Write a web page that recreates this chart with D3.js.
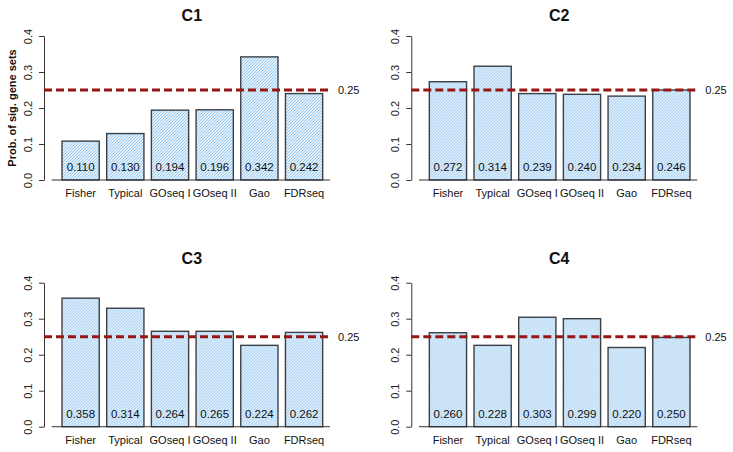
<html>
<head>
<meta charset="utf-8">
<script src="https://d3js.org/d3.v7.min.js"></script>
<style>
body { margin: 0; background: #fff; }
svg { display: block; }
text { font-family: "Liberation Sans", Arial, Helvetica, sans-serif; fill: #111; }
.title { font-size: 16px; font-weight: bold; }
.ylab { font-size: 11px; font-weight: bold; }
.tick text { font-size: 11px; }
.xlab { font-size: 11px; }
.vlab { font-size: 11.5px; }
.ref-lab { font-size: 11px; }
</style>
</head>
<body>
<svg width="733" height="452"></svg>
<script>

// data
var methods = ["Fisher", "Typical", "GOseq I", "GOseq II", "Gao", "FDRseq"];
var panels = ["C1", "C2", "C3", "C4"];
var yTicks = [0, 0.1, 0.2, 0.3, 0.4];
var refValue = 0.25;

// bar heights
var c1Bars = [0.108, 0.129, 0.194, 0.195, 0.342, 0.240];
var c2Bars = [0.273, 0.316, 0.240, 0.238, 0.233, 0.250];
var c3Bars = [0.357, 0.329, 0.265, 0.265, 0.226, 0.262];
var c4Bars = [0.261, 0.226, 0.304, 0.300, 0.220, 0.248];

// printed labels in the bars
var c1Labels = ["0.110", "0.130", "0.194", "0.196", "0.342", "0.242"];
var c2Labels = ["0.272", "0.314", "0.239", "0.240", "0.234", "0.246"];
var c3Labels = ["0.358", "0.314", "0.264", "0.265", "0.224", "0.262"];
var c4Labels = ["0.260", "0.228", "0.303", "0.299", "0.220", "0.250"];

var bars = [c1Bars, c2Bars, c3Bars, c4Bars];
var labels = [c1Labels, c2Labels, c3Labels, c4Labels];

var svg = d3.select("svg");

// hatch pattern
var s = 3;
var pat = svg.append("defs").append("pattern")
    .attr("id", "hatch")
    .attr("patternUnits", "userSpaceOnUse")
    .attr("width", s).attr("height", s);
pat.append("rect").attr("width", s).attr("height", s).attr("fill", "#e2f0fc");
pat.append("path")
    .attr("d", "M-1,1 l2,-2 M0," + s + " l" + s + ",-" + s + " M" + (s - 1) + "," + (s + 1) + " l2,-2")
    .attr("stroke", "#92c6ee")
    .attr("stroke-width", 0.9);

// panel geometry (left column / right column, top row / bottom row)
var colX = [0, 367.3];
var rowY = [0, 246.7];
var titleY = [20.5, 264];

panels.forEach(function(name, i) {
    var col = i % 2, row = Math.floor(i / 2);
    var g = svg.append("g")
        .attr("transform", "translate(" + colX[col] + "," + rowY[row] + ")");

    var left = 51.7, right = 330, top = 36, bottom = 180;

    var x = d3.scaleBand()
        .domain(methods)
        .range([58.3, 326.4])
        .paddingInner(1 / 6)
        .paddingOuter(1 / 12);

    var y = d3.scaleLinear()
        .domain([0, 0.4])
        .range([bottom, top]);

    // title
    g.append("text")
        .attr("class", "title")
        .attr("x", (left + right) / 2 + 1)
        .attr("y", titleY[row] - rowY[row])
        .attr("text-anchor", "middle")
        .text(name);

    // bars
    g.selectAll(".bar")
        .data(bars[i])
        .enter().append("rect")
        .attr("class", "bar")
        .attr("x", (d, j) => x(methods[j]))
        .attr("width", x.bandwidth())
        .attr("y", d => y(d))
        .attr("height", d => y(0) - y(d))
        .attr("fill", "url(#hatch)")
        .attr("stroke", "#3b4048")
        .attr("stroke-width", 1.4);

    // value labels
    g.selectAll(".vlab")
        .data(labels[i])
        .enter().append("text")
        .attr("class", "vlab")
        .attr("x", (d, j) => x(methods[j]) + x.bandwidth() / 2)
        .attr("y", y(0) - 9)
        .attr("text-anchor", "middle")
        .text(d => d);

    // x baseline
    g.append("line")
        .attr("x1", left).attr("x2", right)
        .attr("y1", y(0)).attr("y2", y(0))
        .attr("stroke", "#333").attr("stroke-width", 1);

    // x labels
    g.selectAll(".xlab")
        .data(methods)
        .enter().append("text")
        .attr("class", "xlab")
        .attr("x", d => x(d) + x.bandwidth() / 2)
        .attr("y", y(0) + 17)
        .attr("text-anchor", "middle")
        .text(d => d);

    // y axis
    var yAxis = g.append("g")
        .attr("transform", "translate(44,0)")
        .call(d3.axisLeft(y).tickValues(yTicks).tickFormat(d3.format(".1f")).tickSize(5).tickSizeOuter(0));
    yAxis.select(".domain").attr("stroke", "#333");
    yAxis.selectAll(".tick line").attr("stroke", "#333");
    yAxis.selectAll(".tick text")
        .attr("transform", "rotate(-90)")
        .attr("x", 0)
        .attr("y", -12)
        .attr("dy", 0)
        .attr("text-anchor", "middle")
        .style("fill", "#222");

    // reference line
    g.append("line")
        .attr("x1", 44).attr("x2", right)
        .attr("y1", y(refValue)).attr("y2", y(refValue))
        .attr("stroke", "#961515")
        .attr("stroke-width", 3)
        .attr("stroke-dasharray", "8,4");

    g.append("text")
        .attr("class", "ref-lab")
        .attr("x", right + 8)
        .attr("y", y(refValue) + 4)
        .text(d3.format(".2f")(refValue));

    if (i === 0) {
        g.append("text")
            .attr("class", "ylab")
            .attr("transform", "translate(16," + (top + bottom) / 2 + ") rotate(-90)")
            .attr("text-anchor", "middle")
            .text("Prob. of sig. gene sets");
    }
});

</script>
</body>
</html>
